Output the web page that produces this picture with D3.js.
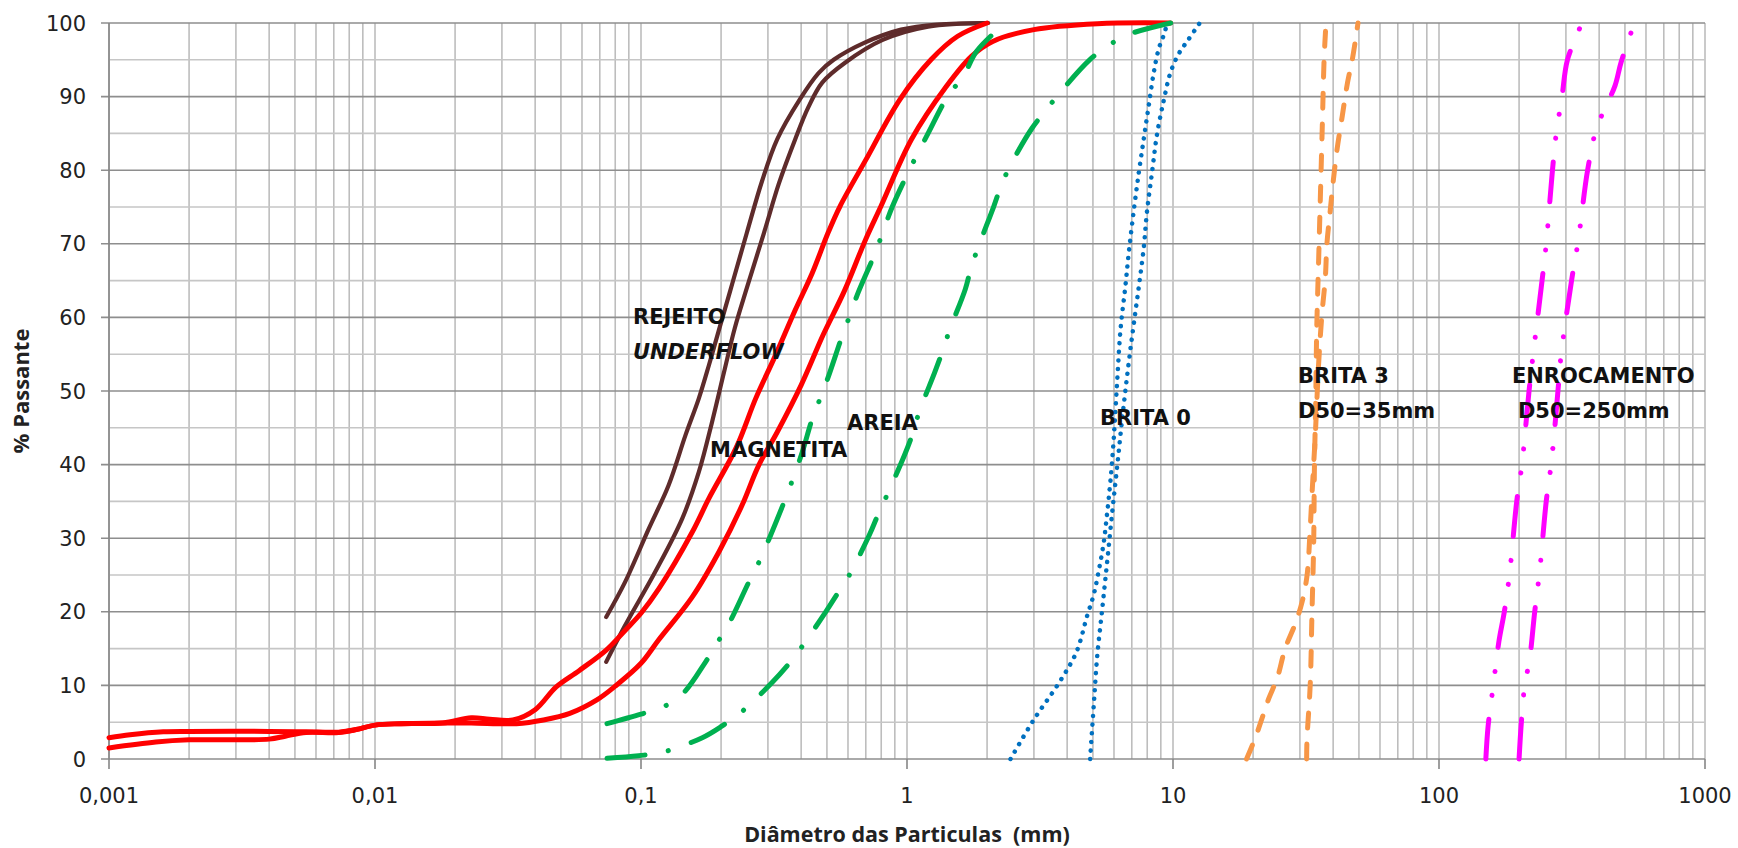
<!DOCTYPE html>
<html>
<head>
<meta charset="utf-8">
<script src="https://cdn.jsdelivr.net/npm/d3@7"></script>
<style>
  body { margin: 0; background: #fff; }
  svg { display: block; }
</style>
</head>
<body>
<script>
// size of the page and plot area
var w = 1738;
var h = 848;
var plotLeft = 109, plotRight = 1705, plotTop = 23, plotBottom = 759;

// grain size curves: [diameter (mm), % passing]
var rejeito1 = [[0.074,19.3],[0.087,24.0],[0.107,31.3],[0.127,37.2],[0.147,44.0],[0.165,49.0],
  [0.18,53.5],[0.196,58.2],[0.22,64.5],[0.25,71.5],[0.285,78.5],[0.325,84.2],[0.395,89.6],
  [0.465,93.2],[0.53,95.0],[0.69,97.3],[0.95,99.1],[1.3,99.8],[2.0,100]];
var rejeito2 = [[0.074,13.2],[0.087,18.1],[0.113,25.4],[0.143,32.7],[0.165,39.0],[0.185,45.8],
  [0.205,52.5],[0.225,58.5],[0.25,64.0],[0.29,71.5],[0.33,78.2],[0.38,84.2],[0.425,88.5],
  [0.48,91.9],[0.585,94.6],[0.81,97.7],[1.2,99.5],[2.02,100]];
var magnetita1 = [[0.001,2.9],[0.0012,3.3],[0.0016,3.7],[0.002,3.75],[0.004,3.75],[0.0055,3.7],
  [0.0073,3.65],[0.0085,4.0],[0.01,4.6],[0.0125,4.8],[0.018,4.9],[0.023,5.6],[0.027,5.4],
  [0.033,5.3],[0.04,6.7],[0.048,9.8],[0.0585,12.0],[0.074,14.8],[0.0873,17.5],[0.1,19.8],
  [0.1166,23.1],[0.1557,30.8],[0.18,35.4],[0.228,42.3],[0.27,49.0],[0.318,54.6],[0.38,61.0],
  [0.44,66.0],[0.505,71.5],[0.56,75.1],[0.7,81.4],[0.94,89.6],[1.23,95.0],[1.55,98.2],
  [2.0,100]];
var magnetita2 = [[0.001,1.5],[0.0015,2.3],[0.002,2.6],[0.004,2.7],[0.0046,3.1],[0.0055,3.6],
  [0.0073,3.6],[0.0085,4.0],[0.01,4.6],[0.0125,4.8],[0.018,4.9],[0.023,4.9],[0.034,4.8],
  [0.043,5.3],[0.054,6.2],[0.068,8.0],[0.08,9.9],[0.1,13.0],[0.1166,16.2],[0.1557,22.0],
  [0.196,28.1],[0.24,34.5],[0.277,39.9],[0.325,44.4],[0.4,50.8],[0.485,57.7],[0.58,63.5],
  [0.699,70.6],[0.798,75.1],[1.04,84.2],[1.40,91.3],[1.75,95.5],[2.1,97.5],[3.0,99.1],
  [5.2,99.9],[9.8,100]];
var areia1 = [[0.0745,4.8],[0.1,6.1],[0.12,7.0],[0.143,8.8],[0.175,13.2],[0.196,16.1],[0.217,18.8],
  [0.254,24.0],[0.278,26.8],[0.303,29.9],[0.345,34.9],[0.371,37.9],[0.404,41.7],[0.441,46.3],
  [0.474,49.2],[0.509,52.2],[0.572,57.6],[0.612,60.4],[0.654,63.3],[0.76,68.8],[0.81,71.5],
  [0.882,75.1],[1.02,80.0],[1.2,85.0],[1.42,90.0],[1.63,92.8],[1.83,96.2],[2.34,100]];
var areia2 = [[0.0745,0.1],[0.098,0.45],[0.12,0.9],[0.17,2.9],[0.202,4.5],[0.237,6.3],[0.311,10.4],
  [0.355,12.7],[0.398,15.0],[0.495,20.0],[0.546,22.4],[0.605,24.9],[0.721,30.4],[0.776,33.1],
  [0.847,36.1],[0.979,41.3],[1.05,44.2],[1.11,47.1],[1.27,52.5],[1.36,55.4],[1.45,58.4],
  [1.655,63.8],[1.74,66.7],[1.86,69.7],[2.12,75.1],[2.27,78.1],[2.46,80.8],[2.95,85.7],
  [3.34,88.2],[3.79,90.7],[4.86,95.0],[5.69,96.9],[6.75,98.4],[9.8,100]];
var brita0a = [[2.45,0],[2.98,5.2],[3.75,10.5],[4.33,14.5],[4.76,19.5],[5.04,22.4],[5.26,25.6],
  [5.49,29.4],[5.65,33.3],[5.82,37.8],[5.99,43.6],[6.17,51.4],[6.35,58.4],[6.62,64.2],
  [6.82,68.8],[7.12,74.5],[7.44,79.7],[7.76,84.2],[8.1,88.7],[8.46,93.2],[8.84,96.5],
  [9.3,98.7],[9.5,100]];
var brita0b = [[4.88,0],[5.04,7.5],[5.19,14.0],[5.42,20.4],[5.66,26.9],[5.9,33.3],[6.17,39.8],
  [6.44,46.2],[6.82,53.9],[7.12,59.1],[7.44,64.2],[7.76,69.4],[7.99,74.5],[8.34,79.7],
  [8.71,84.9],[9.22,89.4],[9.77,93.2],[10.5,95.8],[11.4,97.7],[12.6,100]];
var brita3a = [[18.9,0],[20.4,2.9],[21.6,5.5],[22.9,8.2],[24.7,11.1],[26.4,15.0],[28.9,18.5],
  [30.6,21.4],[31.9,24.9],[32.8,31.4],[33.3,35.9],[34.3,44.3],[35.3,53.9],[36.3,60.4],
  [37.4,65.5],[37.9,70.0],[39.0,74.5],[40.0,78.4],[41.4,82.9],[43.3,87.4],[45.3,91.9],
  [47.3,95.2],[49.6,100]];
var brita3b = [[31.8,0],[31.9,2.7],[32.8,10.1],[33.3,19.8],[33.8,29.4],[34.0,39.1],[34.4,48.8],
  [34.7,58.4],[35.3,68.1],[35.9,77.8],[36.5,87.4],[37.0,95.2],[37.6,100]];
var enrocamento1 = [[150,0],[153,4.5],[160,10],[168,16],[176,20],[184,25],[196,35],[205,40],
  [218,50],[226,55],[244,65],[253,70],[267,80],[276,85],[290,90],[304,95],[345,100]];
var enrocamento2 = [[200,0],[204,5],[210,10],[219,13.5],[229,20],[239,25.5],[253,35],[265,40.5],
  [280,50],[288,55],[315,65],[334,70.5],[362,80],[391,85.7],[423,88.6],[459,91.5],[484,94.7],
  [543,100]];

// axis ticks and labels
var xDecades = [0.001, 0.01, 0.1, 1, 10, 100, 1000];
var xDecadeLabels = ["0,001", "0,01", "0,1", "1", "10", "100", "1000"];
var yMajor = [0, 10, 20, 30, 40, 50, 60, 70, 80, 90, 100];
var yMinor = [5, 15, 25, 35, 45, 55, 65, 75, 85, 95];

// text labels inside the plot: [text, diameter, % passing, italic]
var curveLabels = [
  ["REJEITO", 0.0933, 59.1, false],
  ["UNDERFLOW", 0.0933, 54.3, true],
  ["MAGNETITA", 0.1817, 41.0, false],
  ["AREIA", 0.595, 44.7, false],
  ["BRITA 0", 5.32, 45.4, false],
  ["BRITA 3", 29.5, 51.1, false],
  ["D50=35mm", 29.5, 46.3, false],
  ["ENROCAMENTO", 188, 51.1, false],
  ["D50=250mm", 198, 46.3, false]
];

var xScale = d3.scaleLog()
  .domain([0.001, 1000])
  .range([plotLeft, plotRight]);

var yScale = d3.scaleLinear()
  .domain([0, 100])
  .range([plotBottom, plotTop]);

var svg = d3.select("body")
  .append("svg")
  .attr("width", w)
  .attr("height", h);

// vertical grid: every 1..9 of each decade
var xGrid = [];
xDecades.slice(0, -1).forEach(function(d) {
  for (var k = 1; k <= 9; k++) xGrid.push(d * k);
});
xGrid.push(1000);

svg.append("g")
  .selectAll("line")
  .data(xGrid)
  .enter()
  .append("line")
  .attr("x1", d => xScale(d))
  .attr("x2", d => xScale(d))
  .attr("y1", plotTop)
  .attr("y2", plotBottom)
  .attr("stroke", "#bdbdbd")
  .attr("stroke-width", 1.6);

svg.append("g")
  .selectAll("line")
  .data(yMinor)
  .enter()
  .append("line")
  .attr("x1", plotLeft)
  .attr("x2", plotRight)
  .attr("y1", d => yScale(d))
  .attr("y2", d => yScale(d))
  .attr("stroke", "#c6c6c6")
  .attr("stroke-width", 1.6);

svg.append("g")
  .selectAll("line")
  .data(yMajor)
  .enter()
  .append("line")
  .attr("x1", plotLeft - 8)
  .attr("x2", plotRight)
  .attr("y1", d => yScale(d))
  .attr("y2", d => yScale(d))
  .attr("stroke", "#8e8e8e")
  .attr("stroke-width", 1.6);

// axis lines and x ticks
svg.append("line")
  .attr("x1", plotLeft).attr("x2", plotLeft)
  .attr("y1", plotTop).attr("y2", plotBottom)
  .attr("stroke", "#868686").attr("stroke-width", 1.6);

svg.append("g")
  .selectAll("line")
  .data(xDecades)
  .enter()
  .append("line")
  .attr("x1", d => xScale(d))
  .attr("x2", d => xScale(d))
  .attr("y1", plotBottom)
  .attr("y2", plotBottom + 10)
  .attr("stroke", "#868686")
  .attr("stroke-width", 1.6);

// tick labels
svg.append("g")
  .selectAll("text")
  .data(xDecades)
  .enter()
  .append("text")
  .attr("x", d => xScale(d))
  .attr("y", plotBottom + 44)
  .attr("text-anchor", "middle")
  .attr("font-family", "DejaVu Sans, sans-serif")
  .attr("font-size", "21px")
  .attr("fill", "#222")
  .text((d, i) => xDecadeLabels[i]);

svg.append("g")
  .selectAll("text")
  .data(yMajor)
  .enter()
  .append("text")
  .attr("x", plotLeft - 23)
  .attr("y", d => yScale(d))
  .attr("dy", "0.36em")
  .attr("text-anchor", "end")
  .attr("font-family", "DejaVu Sans, sans-serif")
  .attr("font-size", "21px")
  .attr("fill", "#222")
  .text(d => d);

// axis titles
svg.append("text")
  .attr("x", (plotLeft + plotRight) / 2)
  .attr("y", 842)
  .attr("text-anchor", "middle")
  .attr("font-family", "Open Sans, sans-serif")
  .attr("font-weight", "bold")
  .attr("font-size", "21.5px")
  .attr("fill", "#222")
  .attr("xml:space", "preserve")
  .text("Diâmetro das Particulas  (mm)");

svg.append("text")
  .attr("transform", "translate(29," + ((plotTop + plotBottom) / 2) + ") rotate(-90)")
  .attr("text-anchor", "middle")
  .attr("font-family", "Open Sans, sans-serif")
  .attr("font-weight", "bold")
  .attr("font-size", "22px")
  .attr("fill", "#222")
  .text("% Passante");

// curves
var series = [
  { data: rejeito1, color: "#5e2b2b", width: 4.2, dash: null },
  { data: rejeito2, color: "#5e2b2b", width: 4.2, dash: null },
  { data: magnetita1, color: "#ff0000", width: 5, dash: null },
  { data: magnetita2, color: "#ff0000", width: 5, dash: null },
  { data: areia1, color: "#00b050", width: 5, dash: "38 24 0.1 24" },
  { data: areia2, color: "#00b050", width: 5, dash: "38 24 0.1 24" },
  { data: brita0a, color: "#0070c0", width: 4.5, dash: "0.1 8.5" },
  { data: brita0b, color: "#0070c0", width: 4.5, dash: "0.1 8.5" },
  { data: brita3a, color: "#f79646", width: 5, dash: "15 16" },
  { data: brita3b, color: "#f79646", width: 5, dash: "15 16" },
  { data: enrocamento1, color: "#ff00ff", width: 5, dash: "40 24 0.1 24 0.1 24" },
  { data: enrocamento2, color: "#ff00ff", width: 5, dash: "40 24 0.1 24 0.1 24" }
];

var line = d3.line()
  .x(d => xScale(d[0]))
  .y(d => yScale(d[1]))
  .curve(d3.curveCatmullRom.alpha(0.5));

svg.append("g")
  .selectAll("path")
  .data(series)
  .enter()
  .append("path")
  .attr("d", d => line(d.data))
  .attr("fill", "none")
  .attr("stroke", d => d.color)
  .attr("stroke-width", d => d.width)
  .attr("stroke-linecap", "round")
  .attr("stroke-linejoin", "round")
  .attr("stroke-dasharray", d => d.dash);

// labels
svg.append("g")
  .selectAll("text")
  .data(curveLabels)
  .enter()
  .append("text")
  .attr("x", d => xScale(d[1]))
  .attr("y", d => yScale(d[2]))
  .attr("font-family", "DejaVu Sans, sans-serif")
  .attr("font-weight", "bold")
  .attr("font-style", d => d[3] ? "italic" : "normal")
  .attr("font-size", "21px")
  .attr("fill", "#111")
  .text(d => d[0]);
</script>
</body>
</html>
